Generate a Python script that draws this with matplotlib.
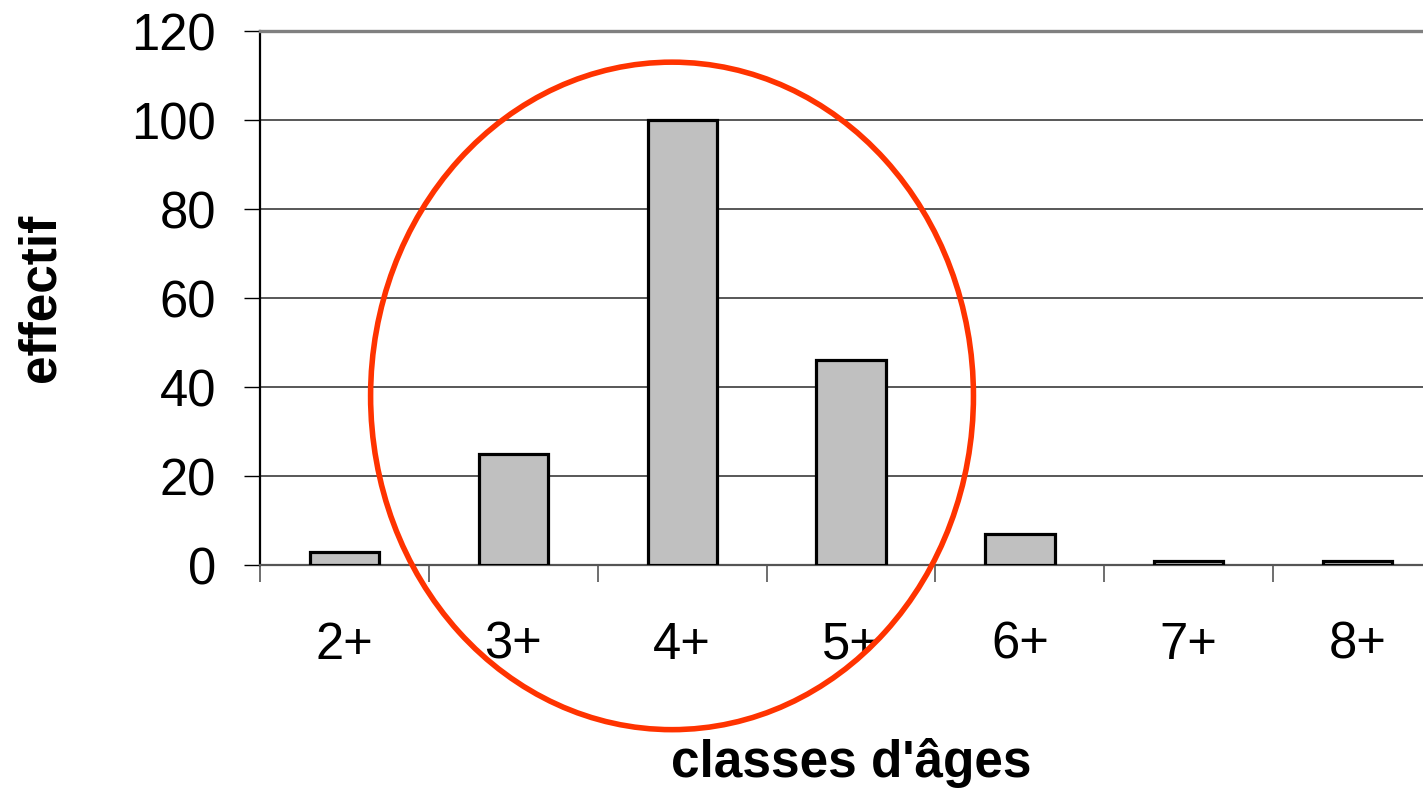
import matplotlib
matplotlib.use("Agg")
import matplotlib.pyplot as plt
from matplotlib.patches import Ellipse
import numpy as np

plt.rcParams['font.family'] = ['Liberation Sans', 'DejaVu Sans']

# Age classes and counts per class
categories = ["2+", "3+", "4+", "5+", "6+", "7+", "8+"]
effectifs = [3, 25, 100, 46, 7, 1, 1]
y_ticks = [0, 20, 40, 60, 80, 100, 120]

# Highlight ellipse around the dominant classes (data coordinates)
highlight_center = (1.94, 38)
highlight_size = (3.57, 150)

fig = plt.figure(figsize=(14.23, 7.89), dpi=100)
ax = fig.add_axes([0.1827, 0.2839, 1.0134 - 0.1827, 0.9607 - 0.2839])

x = np.arange(len(categories))
ax.bar(x, effectifs, width=0.41, color="#C0C0C0", edgecolor="black",
       linewidth=2.3, zorder=3)

ax.set_xlim(-0.5, len(categories) - 0.5)
ax.set_ylim(0, 120)

# Horizontal gridlines
ax.set_yticks(y_ticks)
ax.set_yticklabels([str(v) for v in y_ticks], fontsize=36.5)
ax.yaxis.grid(True, color="#2a2a2a", linewidth=1.1, zorder=1)
ax.set_axisbelow(True)
ax.tick_params(axis="y", direction="out", length=11.5, width=1.0,
               color="black", pad=20)

# Category labels at centres, tick marks at class boundaries
ax.set_xticks(x)
ax.set_xticklabels(categories, fontsize=36.5)
ax.set_xticks(np.arange(len(categories) + 1) - 0.5, minor=True)
ax.tick_params(axis="x", which="major", length=0, pad=40)
ax.tick_params(axis="x", which="minor", direction="out", length=12,
               width=1.2, color="#555555")

ax.spines["right"].set_visible(False)
ax.spines["top"].set_color("#808080")
ax.spines["top"].set_linewidth(2.4)
ax.spines["left"].set_color("black")
ax.spines["left"].set_linewidth(1.6)
ax.spines["bottom"].set_color("#555555")
ax.spines["bottom"].set_linewidth(1.6)

ax.set_xlabel("classes d'âges", fontsize=37, fontweight="bold", va="baseline")
ax.xaxis.set_label_coords(0.5, -0.397)
ax.set_ylabel("effectif", fontsize=37, fontweight="bold", va="center")
ax.yaxis.set_label_coords(-0.185, 0.5)

ell = Ellipse(highlight_center, highlight_size[0], highlight_size[1],
              fill=False, edgecolor="#FF3300", linewidth=4.0, zorder=5,
              clip_on=False)
ax.add_patch(ell)

fig.savefig("out.png", dpi=100)
